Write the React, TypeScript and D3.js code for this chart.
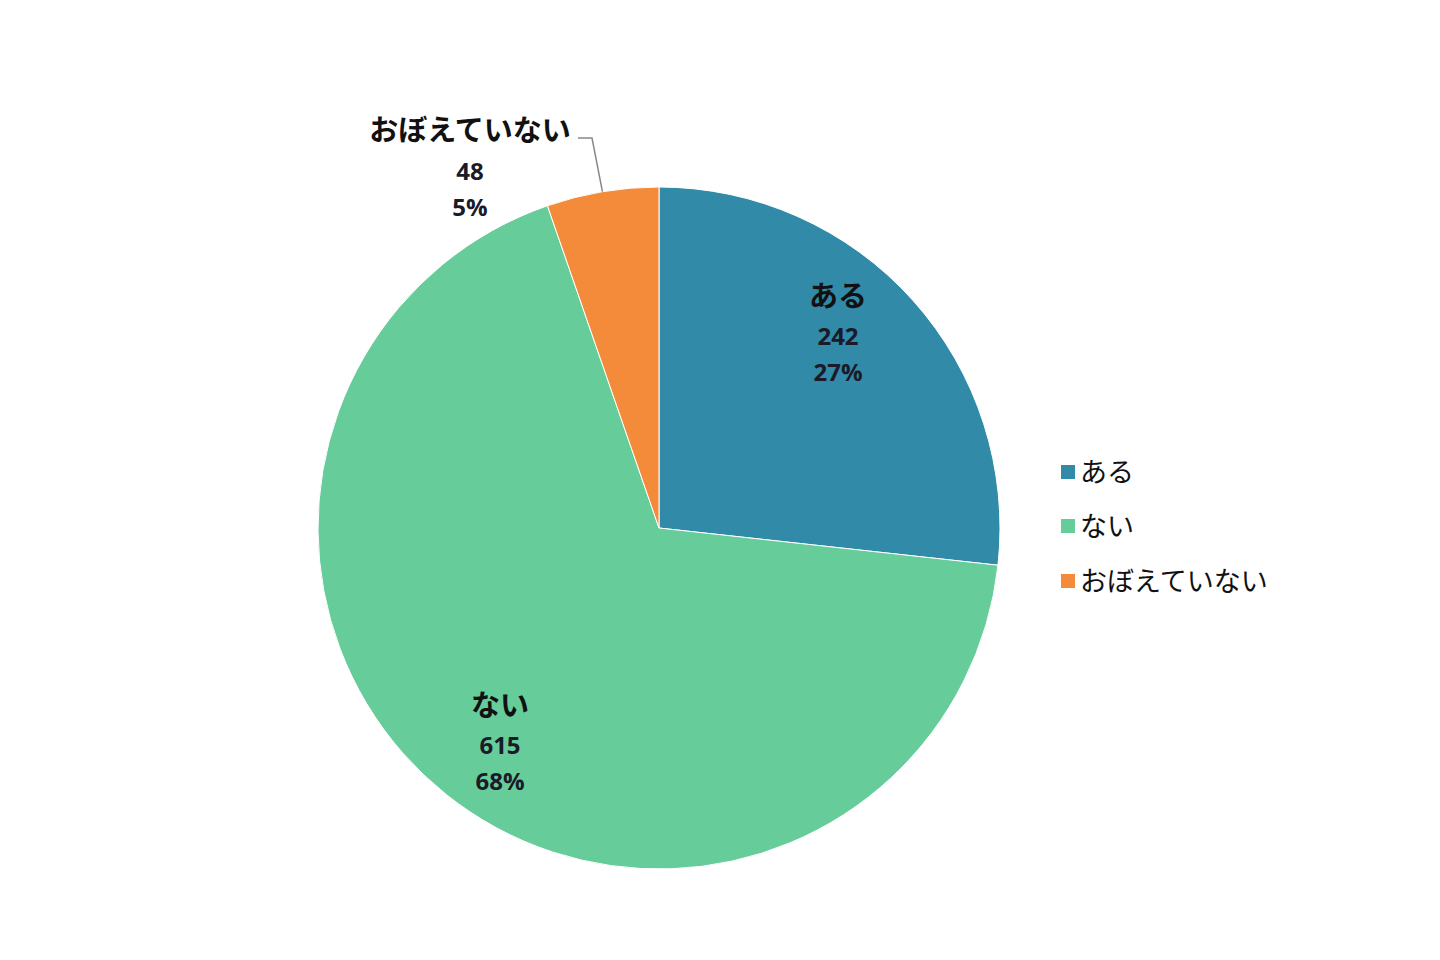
import React from "react";
import * as d3 from "d3";

const categories = ["ある", "ない", "おぼえていない"];
const values = [242, 615, 48];
const colors = ["#318AA8", "#66CC99", "#F38B3A"];

const W = 1440, H = 960;
const cx = 659, cy = 528, R = 341;

export default function App() {
  const total = d3.sum(values);
  const pie = d3.pie<number>().sort(null).value((d) => d)(values);
  const arc = d3.arc<d3.PieArcDatum<number>>().innerRadius(0).outerRadius(R);
  const pct = (v: number) => `${Math.round((v / total) * 100)}%`;

  const jpFont = "'Noto Sans CJK JP', sans-serif";
  const numFont = "'Open Sans', 'Noto Sans', sans-serif";

  const small = pie[2];
  const midA = (small.startAngle + small.endAngle) / 2;
  const edge: [number, number] = [Math.sin(midA) * R, -Math.cos(midA) * R];

  const legendY = [472, 526, 581];
  const inside = [[838, 296], [500, 705]];

  return (
    <svg width={W} height={H} style={{ display: "block", position: "absolute", left: 0, top: 0 }}>
      <rect width={W} height={H} fill="#fff" />
      <g transform={`translate(${cx},${cy})`}>
        {pie.map((p, i) => (
          <path key={i} d={arc(p) || ""} fill={colors[i]} stroke="#fff" strokeWidth={1} />
        ))}
      </g>
      {[0, 1].map((i) => {
        const [x, y] = inside[i];
        return (
          <g key={i}>
            <text x={x} y={y + 11} textAnchor="middle" fontFamily={jpFont} fontWeight="bold" fontSize={29} fill="#111">{categories[i]}</text>
            <text x={x} y={y + 49} textAnchor="middle" fontFamily={numFont} fontWeight="bold" fontSize={24} fill="#1a1a28">{values[i]}</text>
            <text x={x} y={y + 85} textAnchor="middle" fontFamily={numFont} fontWeight="bold" fontSize={24} fill="#1a1a28">{pct(values[i])}</text>
          </g>
        );
      })}
      <polyline
        points={`578,138 592,138 ${cx + edge[0]},${cy + edge[1]}`}
        fill="none" stroke="#888" strokeWidth={1.5}
      />
      <text x={470} y={141} textAnchor="middle" fontFamily={jpFont} fontWeight="bold" fontSize={29} fill="#111">{categories[2]}</text>
      <text x={470} y={180} textAnchor="middle" fontFamily={numFont} fontWeight="bold" fontSize={24} fill="#1a1a28">{values[2]}</text>
      <text x={470} y={216} textAnchor="middle" fontFamily={numFont} fontWeight="bold" fontSize={24} fill="#1a1a28">{pct(values[2])}</text>
      {categories.map((c, i) => (
        <g key={c}>
          <rect x={1061} y={legendY[i] - 7} width={14} height={14} fill={colors[i]} />
          <text x={1080} y={legendY[i] + 10} fontFamily={jpFont} fontSize={27} fill="#111">{c}</text>
        </g>
      ))}
    </svg>
  );
}
